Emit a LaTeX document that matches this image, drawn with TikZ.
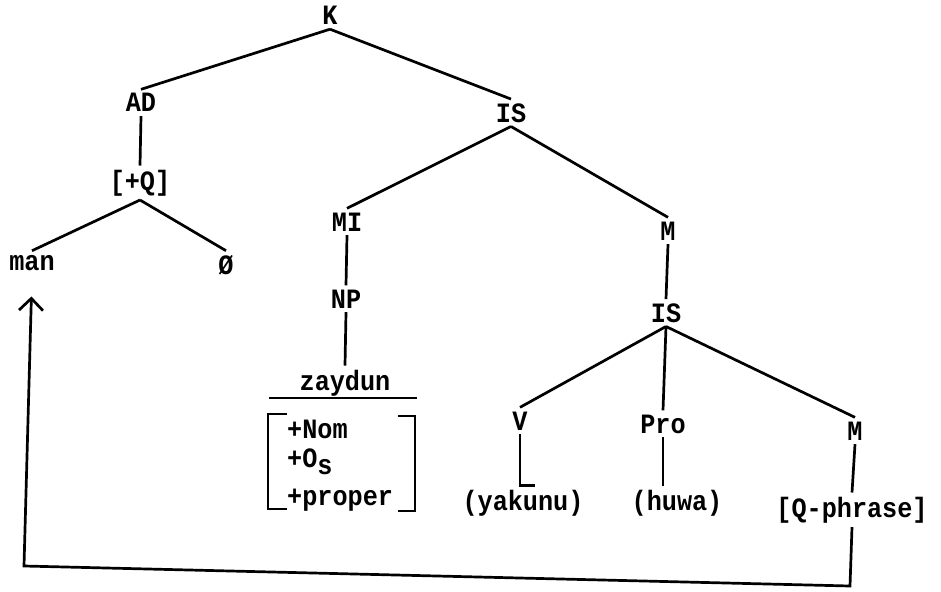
\documentclass[tikz,border=0pt]{standalone}
\usepackage{fontspec}
\setmonofont{Liberation Mono}[FakeStretch=0.9]
\usepackage{tikz}
\usetikzlibrary{arrows.meta}

\begin{document}
\begin{tikzpicture}[x=1pt,y=-1pt,font=\ttfamily\bfseries\fontsize{28}{30}\selectfont]
  \tikzstyle{cat}=[anchor=base,inner sep=4pt]
  \tikzstyle{feat}=[anchor=base west,inner sep=0pt]
  \tikzstyle{branch}=[line width=2.7pt]
  \useasboundingbox (0,0) rectangle (941,591);
  % upper part of the tree
  \node[cat] (k) at (330,25) {K};
  \node[cat] (ad) at (141,112) {AD};
  \node[cat] (plusq) at (140,190) {[+Q]};
  \node[cat] (man) at (32,270) {man};
  \node[cat] (null) at (226,274) {Ø};
  \node[cat] (is1) at (511,122) {IS};
  \node[cat] (mi) at (347,231) {MI};
  \node[cat] (np) at (346,308) {NP};
  \node[cat] (zay) at (345,390) {zaydun};
  \node[cat] (m1) at (668,240) {M};
  \node[cat] (is2) at (666,322) {IS};
  % lower part
  \node[cat] (v) at (520,430) {V};
  \node[cat] (pro) at (663,433) {Pro};
  \node[cat] (m2) at (855,440) {M};
  \node[cat] (yak) at (523,510) {(yakunu)};
  \node[cat] (huwa) at (677,510) {(huwa)};
  \node[cat] (qphr) at (852,517) {[Q-phrase]};
  % features of zaydun
  \node[feat] (fnom) at (287,438) {+Nom};
  \node[feat] (fos) at (287,467) {+O\raisebox{-7pt}{s}};
  \node[feat] (fprop) at (287,505) {+proper};
  \draw[branch] (269,398) -- (417,398);
  \draw[branch] (287,414) -- (268,414) -- (268,509) -- (287,509);
  \draw[branch] (398,416) -- (415,416) -- (415,511) -- (398,511);

  \draw[branch] (k.south) -- (ad.north);
  \draw[branch] (k.south) -- (is1.north);
  \draw[branch] (ad.south) -- (plusq.north);
  \draw[branch] (plusq.south) -- (man.north);
  \draw[branch] (plusq.south) -- (null.north);
  \draw[branch] (is1.south) -- (mi.north);
  \draw[branch] (is1.south) -- (m1.north);
  \draw[branch] (mi.south) -- (np.north);
  \draw[branch] (np.south) -- (zay.north);
  \draw[branch] (m1.south) -- (is2.north);
  \draw[branch] (is2.south) -- (v.north);
  \draw[branch] (is2.south) -- (pro.north);
  \draw[branch] (is2.south) -- (m2.north);
  \draw[branch] (v.south) -- (v.south |- yak.north) -- ++(15,0);
  \draw[branch] (pro.south) -- (huwa.north -| pro.south);
  \draw[branch] (m2.south) -- (qphr.north);

  \coordinate (turnr) at (850,586);
  \coordinate (turnl) at (24,566);
  \draw[branch,-{Straight Barb[length=12pt,width=24pt]},shorten >=22pt]
    (qphr.south) -- (turnr) -- (turnl) -- (man.south);
\end{tikzpicture}
\end{document}
